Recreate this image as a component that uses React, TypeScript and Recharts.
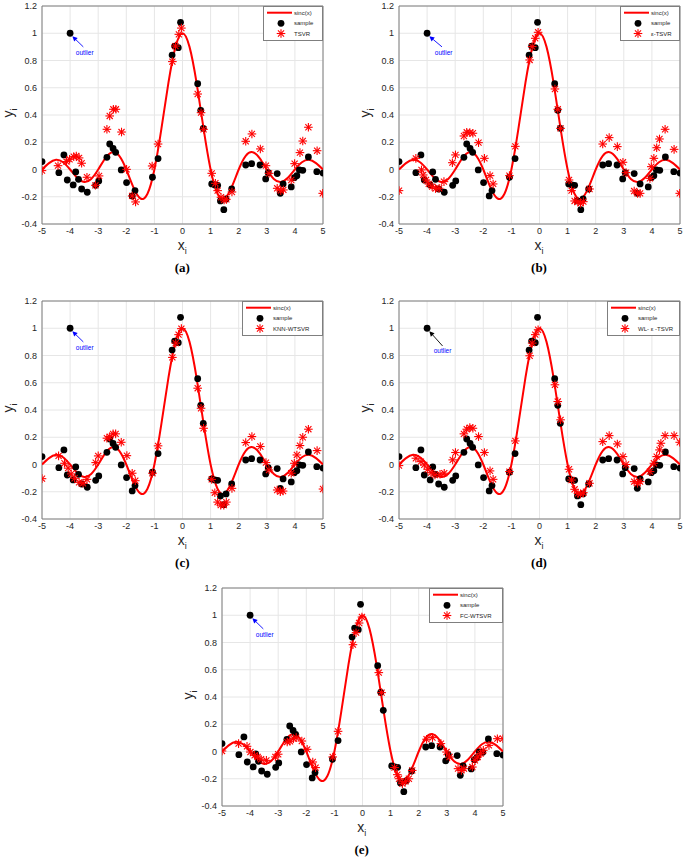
import React from "react";
import {
  ComposedChart,
  Line,
  Scatter,
  XAxis,
  YAxis,
  CartesianGrid,
  ReferenceArea,
  ReferenceLine,
  ReferenceDot,
} from "recharts";

type Pt = [number, number];

const xTicks = [-5, -4, -3, -2, -1, 0, 1, 2, 3, 4, 5];
const yTicks = [-0.4, -0.2, 0, 0.2, 0.4, 0.6, 0.8, 1, 1.2];

// sinc(x) curve
const sincX = [
  -5, -4.75, -4.5, -4.25, -4, -3.75, -3.5, -3.25, -3, -2.75, -2.5, -2.25, -2,
  -1.75, -1.5, -1.25, -1, -0.75, -0.5, -0.25, 0, 0.25, 0.5, 0.75, 1, 1.25, 1.5,
  1.75, 2, 2.25, 2.5, 2.75, 3, 3.25, 3.5, 3.75, 4, 4.25, 4.5, 4.75, 5,
];
const sincY = [
  0, 0.047, 0.071, 0.053, 0, -0.06, -0.091, -0.069, 0, 0.082, 0.127, 0.1, 0,
  -0.129, -0.212, -0.18, 0, 0.3, 0.637, 0.9, 1, 0.9, 0.637, 0.3, 0, -0.18,
  -0.212, -0.129, 0, 0.1, 0.127, 0.082, 0, -0.069, -0.091, -0.06, 0, 0.053,
  0.071, 0.047, 0,
];

const samplePts: Pt[] = [
  [-5.0, 0.058], [-4.4, -0.023], [-4.22, 0.107], [-4.1, -0.077], [-4.0, 1.0],
  [-3.89, -0.113], [-3.8, -0.018], [-3.7, -0.072], [-3.59, -0.143],
  [-3.39, -0.167], [-3.09, -0.116], [-2.98, -0.084], [-2.69, 0.089],
  [-2.59, 0.187], [-2.47, 0.155], [-2.38, 0.126], [-2.18, -0.003],
  [-1.99, -0.096], [-1.79, -0.194], [-1.69, -0.155], [-1.07, -0.057],
  [-0.87, 0.08], [-0.37, 0.84], [-0.28, 0.906], [-0.15, 0.894], [-0.07, 1.08],
  [0.54, 0.63], [0.65, 0.434], [0.74, 0.302], [1.04, -0.106], [1.15, -0.113],
  [1.25, -0.116], [1.35, -0.231], [1.47, -0.295], [1.55, -0.216],
  [1.75, -0.143], [2.25, 0.033], [2.46, 0.043], [2.76, 0.033], [2.96, -0.069],
  [3.05, -0.023], [3.37, -0.03], [3.48, -0.175], [3.58, -0.106],
  [3.87, -0.128], [3.98, -0.06], [4.07, -0.045], [4.16, -0.003],
  [4.28, -0.006], [4.48, 0.092], [4.78, -0.016], [5.0, -0.026],
];

const tsvrPts: Pt[] = [
  [-5.0, -0.008], [-4.43, 0.028], [-4.13, 0.058], [-4.02, 0.075],
  [-3.87, 0.094], [-3.78, 0.099], [-3.68, 0.085], [-3.59, 0.046],
  [-3.4, -0.057], [-3.1, -0.116], [-2.97, -0.047], [-2.69, 0.295],
  [-2.59, 0.393], [-2.46, 0.442], [-2.37, 0.442], [-2.17, 0.275],
  [-1.99, 0.001], [-1.79, -0.194], [-1.67, -0.238], [-1.08, 0.026],
  [-0.87, 0.187], [-0.36, 0.792], [-0.25, 0.906], [-0.13, 0.992],
  [-0.04, 1.038], [0.54, 0.554], [0.66, 0.417], [0.75, 0.295], [1.04, -0.028],
  [1.17, -0.101], [1.25, -0.155], [1.37, -0.204], [1.48, -0.224],
  [1.56, -0.219], [1.76, -0.165], [2.25, 0.207], [2.47, 0.261], [2.77, 0.151],
  [2.97, 0.028], [3.08, -0.028], [3.37, -0.138], [3.5, -0.155], [3.59, -0.15],
  [3.87, -0.077], [3.99, 0.043], [4.18, 0.124], [4.28, 0.209], [4.48, 0.31],
  [4.79, 0.138], [4.99, -0.175],
];

const epsTsvrPts: Pt[] = [
  [-5.0, -0.155], [-4.4, 0.082], [-4.2, -0.003], [-4.14, -0.04],
  [-4.04, -0.077], [-3.94, -0.106], [-3.82, -0.126], [-3.7, -0.14],
  [-3.57, -0.138], [-3.4, -0.089], [-3.1, 0.05], [-2.99, 0.107],
  [-2.69, 0.246], [-2.59, 0.273], [-2.48, 0.271], [-2.37, 0.266],
  [-2.17, 0.197], [-1.96, 0.082], [-1.76, -0.045], [-1.65, -0.106],
  [-1.07, -0.045], [-0.86, 0.17], [-0.35, 0.804], [-0.26, 0.902],
  [-0.15, 0.963], [-0.05, 1.007], [0.55, 0.591], [0.65, 0.442], [0.75, 0.302],
  [1.05, -0.077], [1.14, -0.155], [1.25, -0.231], [1.37, -0.236],
  [1.46, -0.248], [1.56, -0.236], [1.78, -0.143], [2.25, 0.187], [2.48, 0.234],
  [2.77, 0.168], [2.97, 0.053], [3.08, -0.023], [3.37, -0.158], [3.49, -0.175],
  [3.58, -0.175], [3.93, -0.065], [3.98, 0.021], [4.07, 0.082], [4.17, 0.16],
  [4.27, 0.224], [4.47, 0.295], [4.79, 0.148], [4.99, -0.175],
];

const knnPts: Pt[] = [
  [-5.0, -0.104], [-4.41, 0.063], [-4.2, 0.009], [-4.07, -0.027],
  [-3.96, -0.069], [-3.84, -0.101], [-3.68, -0.131], [-3.54, -0.138],
  [-3.4, -0.109], [-3.09, 0.014], [-3.0, 0.063], [-2.69, 0.193],
  [-2.59, 0.205], [-2.47, 0.225], [-2.38, 0.225], [-2.18, 0.163],
  [-1.98, 0.065], [-1.79, -0.064], [-1.68, -0.119], [-1.07, -0.064],
  [-0.87, 0.137], [-0.36, 0.786], [-0.24, 0.891], [-0.14, 0.953],
  [-0.04, 0.997], [0.54, 0.56], [0.66, 0.413], [0.75, 0.266], [1.04, -0.109],
  [1.15, -0.207], [1.25, -0.276], [1.36, -0.298], [1.47, -0.298],
  [1.56, -0.276], [1.76, -0.175], [2.25, 0.161], [2.47, 0.205], [2.77, 0.132],
  [2.97, 0.014], [3.08, -0.04], [3.37, -0.187], [3.48, -0.199], [3.58, -0.195],
  [3.87, -0.064], [3.98, 0.009], [4.07, 0.07], [4.18, 0.139], [4.28, 0.2],
  [4.48, 0.259], [4.79, 0.102], [5.0, -0.18],
];

const wlPts: Pt[] = [
  [-5.0, -0.008], [-4.4, 0.046], [-4.22, 0.021], [-4.1, -0.003],
  [-3.98, -0.035], [-3.86, -0.06], [-3.72, -0.077], [-3.54, -0.072],
  [-3.39, -0.064], [-3.09, 0.034], [-2.99, 0.088], [-2.69, 0.225],
  [-2.59, 0.259], [-2.48, 0.271], [-2.37, 0.266], [-2.17, 0.205],
  [-1.96, 0.088], [-1.76, -0.047], [-1.65, -0.109], [-1.07, -0.052],
  [-0.86, 0.173], [-0.35, 0.798], [-0.26, 0.891], [-0.15, 0.953],
  [-0.05, 0.989], [0.55, 0.585], [0.65, 0.462], [0.75, 0.328], [1.05, -0.035],
  [1.14, -0.114], [1.25, -0.182], [1.37, -0.212], [1.46, -0.217],
  [1.56, -0.207], [1.78, -0.138], [2.25, 0.168], [2.48, 0.212], [2.77, 0.151],
  [2.97, 0.058], [3.08, 0.0], [3.37, -0.126], [3.49, -0.138], [3.58, -0.126],
  [3.93, -0.052], [4.07, 0.009], [4.17, 0.058], [4.27, 0.107], [4.32, 0.156],
  [4.47, 0.212], [4.79, 0.212], [4.99, 0.163],
];

const fcPts: Pt[] = [
  [-5.0, 0.004], [-4.41, 0.058], [-4.11, 0.038], [-3.99, -0.004],
  [-3.84, -0.028], [-3.73, -0.04], [-3.61, -0.057], [-3.42, -0.065],
  [-3.1, -0.04], [-3.0, -0.02], [-2.68, 0.07], [-2.58, 0.075], [-2.46, 0.094],
  [-2.36, 0.102], [-2.16, 0.077], [-1.97, 0.016], [-1.77, -0.077],
  [-1.67, -0.118], [-1.06, -0.04], [-0.87, 0.148], [-0.34, 0.784],
  [-0.23, 0.872], [-0.12, 0.943], [-0.02, 0.987], [0.58, 0.579], [0.68, 0.432],
  [1.14, -0.118], [1.24, -0.17], [1.3, -0.2], [1.42, -0.236], [1.53, -0.219],
  [1.65, -0.2], [1.77, -0.139], [2.28, 0.09], [2.49, 0.102], [2.79, 0.058],
  [2.99, -0.004], [3.1, -0.04], [3.4, -0.126], [3.52, -0.139], [3.61, -0.126],
  [3.91, -0.114], [4.0, -0.065], [4.1, -0.04], [4.2, -0.016], [4.3, 0.009],
  [4.5, 0.045], [4.8, 0.094], [5.0, 0.094],
];

const sincData = sincX.map((x, i) => ({ x, y: sincY[i] }));
const toRows = (pts: Pt[]) => pts.map(([x, y]) => ({ x, y }));

const PLOT_W = 281;
const PLOT_H = 218;
const Y_AXIS_W = 40;
const RED = "#ff0000";
const AXIS_TEXT = "#262626";
const FONT = "'Liberation Sans', Arial, sans-serif";

const StarShape = (props: any) => {
  const { cx, cy } = props;
  const r = 4.3;
  const d = r * 0.707;
  return (
    <g stroke={RED} strokeWidth={1.1}>
      <line x1={cx - r} y1={cy} x2={cx + r} y2={cy} />
      <line x1={cx} y1={cy - r} x2={cx} y2={cy + r} />
      <line x1={cx - d} y1={cy - d} x2={cx + d} y2={cy + d} />
      <line x1={cx - d} y1={cy + d} x2={cx + d} y2={cy - d} />
    </g>
  );
};

const DotShape = (props: any) => (
  <circle cx={props.cx} cy={props.cy} r={3.4} fill="#000" />
);

const makeArrow = (color: string) => (props: any) => {
  const { x1, y1, x2, y2 } = props;
  const ang = Math.atan2(y2 - y1, x2 - x1);
  const L = 5;
  const W = 2.5;
  const bx = x2 - L * Math.cos(ang);
  const by = y2 - L * Math.sin(ang);
  const px = -Math.sin(ang) * W;
  const py = Math.cos(ang) * W;
  return (
    <g>
      <line x1={x1} y1={y1} x2={bx} y2={by} stroke={color} strokeWidth={0.9} />
      <polygon
        points={`${x2},${y2} ${bx + px},${by + py} ${bx - px},${by - py}`}
        fill={color}
      />
    </g>
  );
};

type PanelProps = {
  left: number;
  top: number;
  name: string;
  pts: Pt[];
  legendW: number;
  arrowColor: string;
  caption: string;
  arrowTail: Pt;
  textAt: Pt;
};

function Legend({ name, width }: { name: string; width: number }) {
  return (
    <svg width={width} height={35} style={{ display: "block" }}>
      <rect x={0.5} y={0.5} width={width - 1} height={34} fill="#fff" stroke="#7f7f7f" />
      <line x1={4} y1={6.7} x2={29} y2={6.7} stroke={RED} strokeWidth={2} />
      <circle cx={18} cy={17.3} r={3.4} fill="#000" />
      <StarShape cx={18} cy={27.5} />
      <g fontFamily={FONT} fontSize={6} fill={AXIS_TEXT}>
        <text x={31} y={8.8}>sinc(x)</text>
        <text x={31} y={19.4}>sample</text>
        <text x={31} y={29.6}>{name}</text>
      </g>
    </svg>
  );
}

function Panel({
  left,
  top,
  name,
  pts,
  legendW,
  arrowColor,
  caption,
  arrowTail,
  textAt,
}: PanelProps) {
  const chartW = PLOT_W + Y_AXIS_W + 8;
  const chartH = PLOT_H + 6 + 20;
  const labelStyle: React.CSSProperties = {
    position: "absolute",
    fontFamily: FONT,
    fontSize: 14,
    color: AXIS_TEXT,
    lineHeight: 1,
    whiteSpace: "nowrap",
  };
  return (
    <>
      <div style={{ position: "absolute", left: left - Y_AXIS_W, top: top - 6 }}>
        <ComposedChart
          width={chartW}
          height={chartH}
          margin={{ top: 6, right: 8, bottom: 0, left: 0 }}
        >
          <CartesianGrid stroke="#e6e6e6" strokeWidth={1} />
          <XAxis
            type="number"
            dataKey="x"
            domain={[-5, 5]}
            ticks={xTicks}
            allowDataOverflow
            height={20}
            axisLine={false}
            tickLine={false}
            tickSize={2}
            tickMargin={2}
            tick={{ fontSize: 9, fill: AXIS_TEXT, fontFamily: FONT }}
          />
          <YAxis
            type="number"
            dataKey="y"
            domain={[-0.4, 1.2]}
            ticks={yTicks}
            allowDataOverflow
            width={Y_AXIS_W}
            axisLine={false}
            tickLine={false}
            tickSize={3}
            tickMargin={2}
            tick={{ fontSize: 9, fill: AXIS_TEXT, fontFamily: FONT }}
          />
          <ReferenceArea
            x1={-5}
            x2={5}
            y1={-0.4}
            y2={1.2}
            fill="none"
            stroke="#7f7f7f"
            strokeWidth={1}
          />
          <Line
            data={sincData}
            dataKey="y"
            type="natural"
            stroke={RED}
            strokeWidth={2}
            dot={false}
            isAnimationActive={false}
          />
          <Scatter
            data={toRows(samplePts)}
            dataKey="y"
            shape={DotShape}
            isAnimationActive={false}
          />
          <Scatter
            data={toRows(pts)}
            dataKey="y"
            shape={StarShape}
            isAnimationActive={false}
          />
          <ReferenceLine
            segment={[
              { x: arrowTail[0], y: arrowTail[1] },
              { x: -3.92, y: 0.978 },
            ]}
            shape={makeArrow(arrowColor)}
          />
          <ReferenceDot
            x={textAt[0]}
            y={textAt[1]}
            shape={(p: any) => (
              <text
                x={p.cx}
                y={p.cy}
                textAnchor="middle"
                dominantBaseline="central"
                fontSize={6.5}
                fontFamily={FONT}
                fill="#0000ff"
              >
                outlier
              </text>
            )}
          />
        </ComposedChart>
      </div>
      <div style={{ position: "absolute", left: left + PLOT_W - legendW, top }}>
        <Legend name={name} width={legendW} />
      </div>
      <div
        style={{
          ...labelStyle,
          left: left - 32,
          top: top + 107,
          transform: "translate(-50%, -50%) rotate(-90deg)",
        }}
      >
        y<sub style={{ fontSize: 9 }}>i</sub>
      </div>
      <div
        style={{
          ...labelStyle,
          left: left + 140,
          top: top + 241,
          transform: "translate(-50%, -50%)",
        }}
      >
        x<sub style={{ fontSize: 9 }}>i</sub>
      </div>
      <div
        style={{
          position: "absolute",
          left: left + 140,
          top: top + 261,
          transform: "translate(-50%, -50%)",
          fontFamily: "'Liberation Serif', 'Times New Roman', serif",
          fontWeight: "bold",
          fontSize: 13,
          lineHeight: 1,
          color: "#000",
        }}
      >
        {caption}
      </div>
    </>
  );
}

export default function App() {
  return (
    <div
      style={{
        position: "absolute",
        left: 0,
        top: 0,
        width: 685,
        height: 857,
        background: "#fff",
        overflow: "hidden",
      }}
    >
      <Panel left={42.3} top={6} name="TSVR" pts={tsvrPts} legendW={60}
        arrowColor="#0000ff" caption="(a)" arrowTail={[-3.53, 0.9]} textAt={[-3.48, 0.862]} />
      <Panel left={399} top={6} name="ε-TSVR" pts={epsTsvrPts} legendW={60}
        arrowColor="#0000ff" caption="(b)" arrowTail={[-3.47, 0.9]} textAt={[-3.41, 0.862]} />
      <Panel left={42.3} top={301.3} name="KNN-WTSVR" pts={knnPts} legendW={81}
        arrowColor="#0000ff" caption="(c)" arrowTail={[-3.53, 0.9]} textAt={[-3.48, 0.862]} />
      <Panel left={399} top={301.3} name="WL- ε -TSVR" pts={wlPts} legendW={73}
        arrowColor="#000000" caption="(d)" arrowTail={[-3.45, 0.87]} textAt={[-3.45, 0.84]} />
      <Panel left={221.7} top={587.7} name="FC-WTSVR" pts={fcPts} legendW={74}
        arrowColor="#0000ff" caption="(e)" arrowTail={[-3.53, 0.9]} textAt={[-3.48, 0.862]} />
    </div>
  );
}
